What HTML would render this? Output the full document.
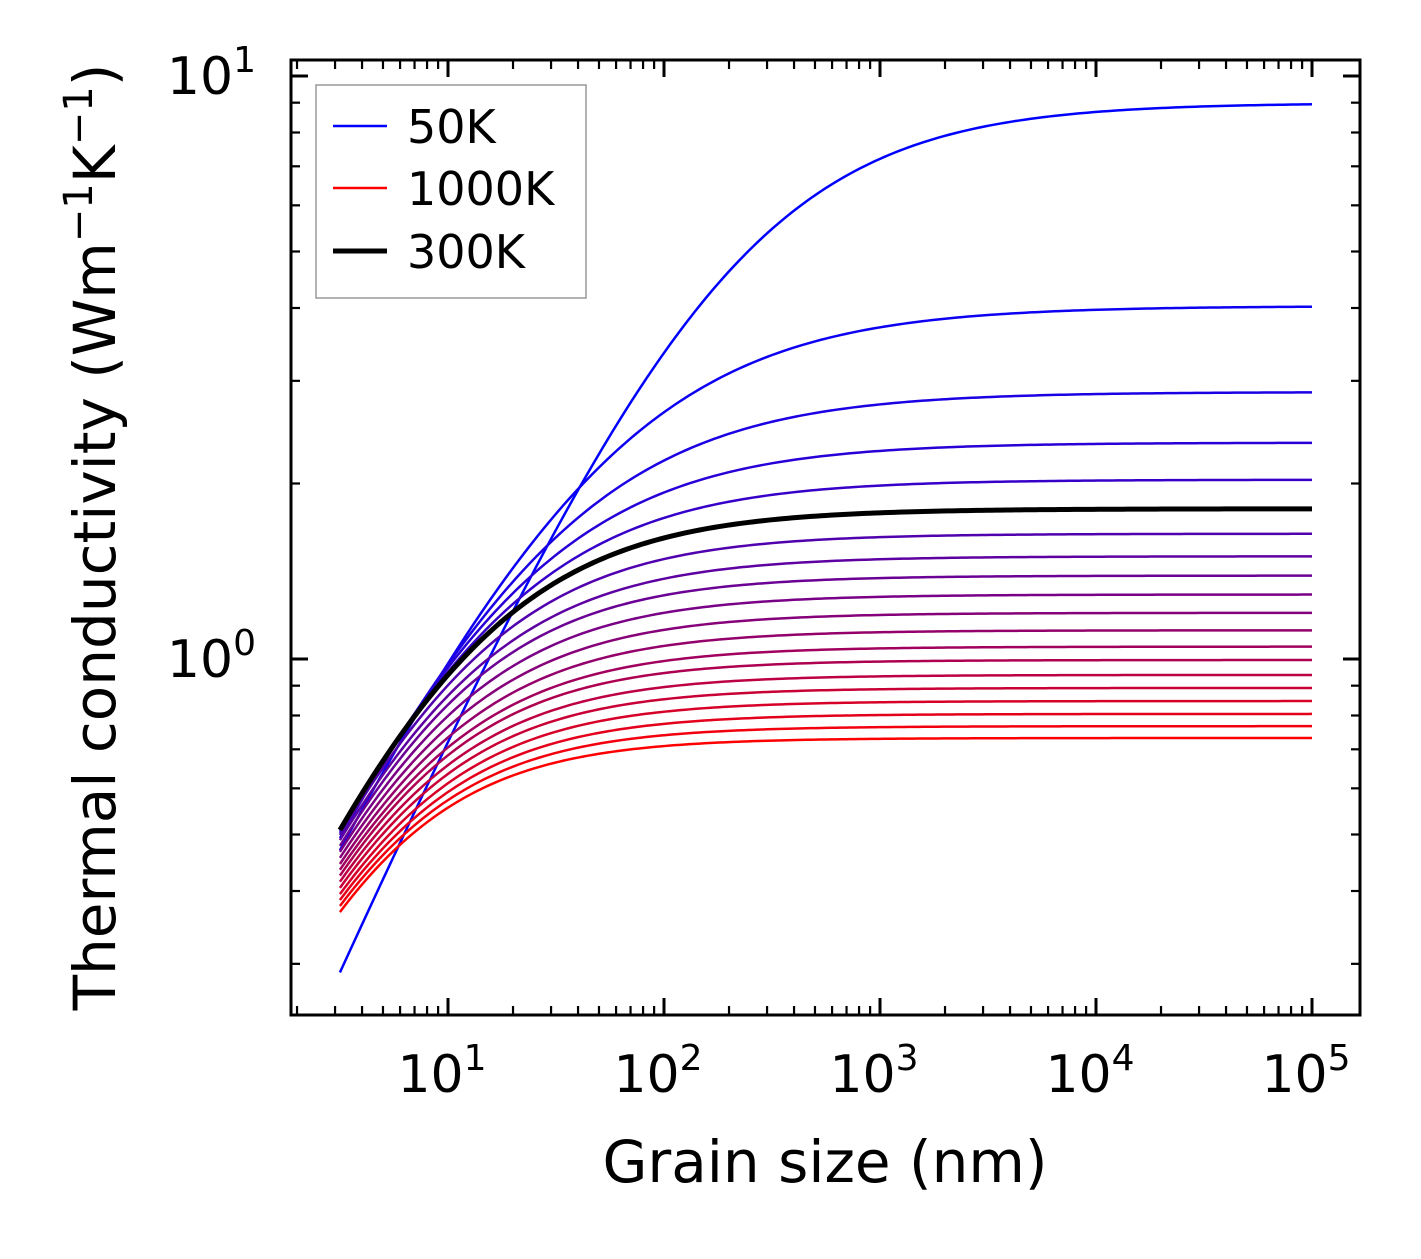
<!DOCTYPE html>
<html><head><meta charset="utf-8">
<style>
html,body{margin:0;padding:0;background:#fff;}
svg text{font-family:"DejaVu Sans","Liberation Sans",sans-serif;fill:#000;}
</style></head>
<body>
<svg id="chart" width="1421" height="1254" viewBox="0 0 1421 1254" xmlns="http://www.w3.org/2000/svg">
<g id="grid"></g>
<g id="series"></g>
<rect x="291" y="60" width="1069" height="955" fill="none" stroke="#000" stroke-width="3"/>
<g id="ticks"></g>
<text x="825" y="1182" font-size="58" text-anchor="middle">Grain size (nm)</text>
<text transform="translate(115,537) rotate(-90)" font-size="58" text-anchor="middle">Thermal conductivity (Wm<tspan dy="-23" font-size="40">−1</tspan><tspan dy="23">K</tspan><tspan dy="-23" font-size="40">−1</tspan><tspan dy="23">)</tspan></text>
<g>
<rect x="316" y="85" width="270" height="213" fill="#fff" stroke="#999" stroke-width="1.5"/>
<line x1="333" y1="126" x2="387" y2="126" stroke="rgb(0,0,255)" stroke-width="2.5"/>
<text x="407" y="143" font-size="46">50K</text>
<line x1="333" y1="188" x2="387" y2="188" stroke="rgb(255,0,0)" stroke-width="2.5"/>
<text x="407" y="205" font-size="46">1000K</text>
<line x1="333" y1="251" x2="387" y2="251" stroke="#000" stroke-width="5"/>
<text x="407" y="268" font-size="46">300K</text>
</g>
</svg>
<script>
const temperatures = [50,100,150,200,250,300,350,400,450,500,550,600,650,700,750,800,850,900,950,1000];
const kPlateau = [8.99,4.03,2.87,2.35,2.03,1.81,1.64,1.50,1.39,1.29,1.20,1.12,1.05,0.996,0.939,0.892,0.847,0.805,0.767,0.732];
const kAt100nm = [3.35,2.65,2.19,1.93,1.746,1.613,1.484,1.373,1.286,1.20,1.122,1.053,0.992,0.946,0.895,0.853,0.812,0.774,0.740,0.709];
const kAtMin = [0.290,0.470,0.493,0.503,0.507,0.509,0.499,0.489,0.478,0.467,0.456,0.445,0.435,0.425,0.415,0.405,0.395,0.386,0.377,0.368];
const grainMin = 3.16, grainMax = 1e5;
const xTickLabels = ['1','2','3','4','5'];
const yTickLabels = ['0','1'];

const NS='http://www.w3.org/2000/svg';
const X0=291,X1=1360,Y0=60,Y1=1015;
const xLmin=1-(448-291)/216, xLmax=5+(1360-1312)/216;
const yLmin=-(1015-659)/583, yLmax=(659-60)/583;
function xs(v){return X0+(Math.log10(v)-xLmin)/(xLmax-xLmin)*(X1-X0);}
function ys(v){return Y1-(Math.log10(v)-yLmin)/(yLmax-yLmin)*(Y1-Y0);}

const series=document.getElementById('series');
function curve(i){
  const kp=kPlateau[i];
  const a0=1/(kAtMin[i]/kp)-1, a1=1/(kAt100nm[i]/kp)-1;
  const p=Math.log(a0/a1)/Math.log(100/grainMin);
  const pts=[];
  const n=200;
  for(let j=0;j<=n;j++){
    const L=Math.pow(10,Math.log10(grainMin)+j/n*(Math.log10(grainMax)-Math.log10(grainMin)));
    const a=a1*Math.pow(100/L,p);
    pts.push(xs(L).toFixed(2)+','+ys(kp/(1+a)).toFixed(2));
  }
  return pts.join(' ');
}
const blackIdx=temperatures.indexOf(300);
temperatures.forEach((T,i)=>{
  if(i===blackIdx) return;
  const t=(T-50)/950;
  const pl=document.createElementNS(NS,'polyline');
  
  
  pl.setAttribute('points',curve(i));
  pl.setAttribute('fill','none');
  pl.setAttribute('stroke','rgb('+Math.round(255*t)+',0,'+Math.round(255*(1-t))+')');
  pl.setAttribute('stroke-width','2.5');
  series.appendChild(pl);
});
{
  const pl=document.createElementNS(NS,'polyline');
  
  
  pl.setAttribute('points',curve(blackIdx));
  pl.setAttribute('fill','none');
  pl.setAttribute('stroke','#000');
  pl.setAttribute('stroke-width','5');
  series.appendChild(pl);
}

const ticks=document.getElementById('ticks');
function ln(x1,y1,x2,y2,name,w){
  const l=document.createElementNS(NS,'line');
  
  
  l.setAttribute('x1',x1);l.setAttribute('y1',y1);l.setAttribute('x2',x2);l.setAttribute('y2',y2);
  l.setAttribute('stroke','#000');l.setAttribute('stroke-width',w);
  ticks.appendChild(l);
}
function lbl(x,y,base,exp,anchor,name){
  const t=document.createElementNS(NS,'text');
  
  
  t.setAttribute('x',x);t.setAttribute('y',y);t.setAttribute('font-size','52');t.setAttribute('text-anchor',anchor);
  t.innerHTML=base+'<tspan dy="-22" font-size="36">'+exp+'</tspan>';
  ticks.appendChild(t);
}
for(let d=0;d<=5;d++){
  for(let m=1;m<10;m++){
    const v=m*Math.pow(10,d);
    const x=xs(v);
    if(x<X0||x>X1) continue;
    const L=m===1?17:9, w=m===1?3:2.2;
    ln(x,Y1,x,Y1-L,'x-tick',w);
    ln(x,Y0,x,Y0+L,'x-tick-top',w);
  }
}
xTickLabels.forEach((e,i)=>{lbl(xs(Math.pow(10,+e))-6,1092,'10',e,'middle','x-tick-label');});
for(let d=-1;d<=1;d++){
  for(let m=1;m<10;m++){
    const v=m*Math.pow(10,d);
    const y=ys(v);
    if(y<Y0||y>Y1) continue;
    const L=m===1?17:9, w=m===1?3:2.2;
    ln(X0,y,X0+L,y,'y-tick',w);
    ln(X1,y,X1-L,y,'y-tick-right',w);
  }
}
yTickLabels.forEach(e=>{lbl(256,ys(Math.pow(10,+e))+18,'10',e,'end','y-tick-label');});
</script>
</body></html>
